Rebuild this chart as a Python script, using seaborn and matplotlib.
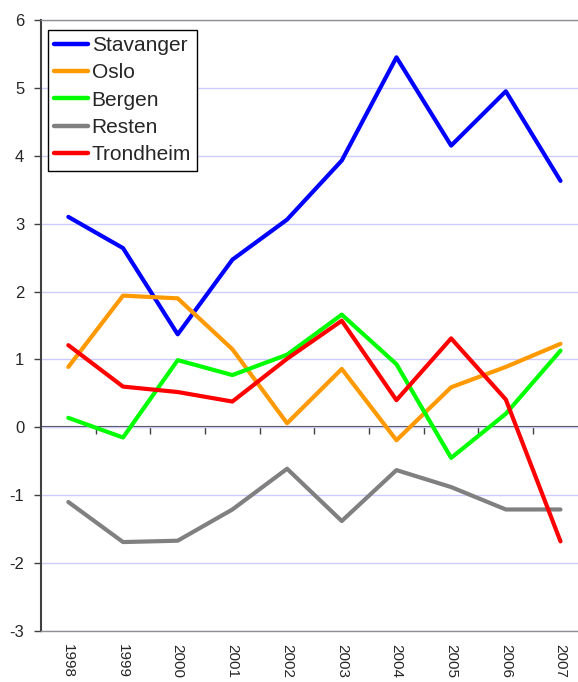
import matplotlib
matplotlib.use('Agg')
import matplotlib.pyplot as plt
import pandas as pd
import seaborn as sns

years = ['1998', '1999', '2000', '2001', '2002', '2003', '2004', '2005', '2006', '2007']

stavanger = [3.10, 2.64, 1.37, 2.47, 3.06, 3.93, 5.45, 4.15, 4.95, 3.63]
oslo = [0.89, 1.94, 1.90, 1.15, 0.06, 0.86, -0.19, 0.59, 0.89, 1.23]
bergen = [0.14, -0.15, 0.99, 0.77, 1.07, 1.66, 0.93, -0.45, 0.20, 1.13]
resten = [-1.10, -1.69, -1.67, -1.21, -0.61, -1.38, -0.63, -0.88, -1.21, -1.21]
trondheim = [1.21, 0.60, 0.52, 0.38, 1.01, 1.57, 0.40, 1.31, 0.41, -1.68]

series = ['Stavanger', 'Oslo', 'Bergen', 'Resten', 'Trondheim']
colours = ['#0000ff', '#ff9900', '#00ff00', '#808080', '#ff0000']

rows = []
for name, vals in zip(series, [stavanger, oslo, bergen, resten, trondheim]):
    for i, v in enumerate(vals):
        rows.append({'pos': i, 'year': years[i], 'value': v, 'region': name})
df = pd.DataFrame(rows)

sns.set_style('white')
plt.rcParams['font.family'] = ['Liberation Sans', 'DejaVu Sans']
plt.rcParams['axes.unicode_minus'] = False

fig = plt.figure(figsize=(5.78, 6.82), dpi=100)
ax = fig.add_axes([41 / 578, 1 - 631 / 682, 537 / 578, 611 / 682])

sns.lineplot(data=df, x='pos', y='value', hue='region', hue_order=series,
             palette=colours, linewidth=3, ax=ax, legend=True)

ax.set_xlim(-0.5, 9.32)
ax.set_ylim(-3, 6)
ax.set_yticks(range(-3, 7))
ax.set_yticklabels([str(v) for v in range(-3, 7)], fontsize=12)
ax.yaxis.grid(True, color='#ccccff', linewidth=1)
ax.set_axisbelow(True)
ax.tick_params(axis='y', direction='out', length=5, width=1, color='#404040', left=True, pad=7)

ax.set_xticks(range(len(years)))
ax.set_xticklabels(years, rotation=-90, fontsize=11)
ax.tick_params(axis='x', length=0, pad=9)
ax.set_xlabel('')
ax.set_ylabel('')

for s in ['top', 'bottom']:
    ax.spines[s].set_color('#909090')
    ax.spines[s].set_linewidth(1)
ax.spines['right'].set_visible(False)
ax.spines['left'].set_color('#404040')
ax.spines['left'].set_linewidth(1.5)

# category axis crossing at zero, ticks between the years
zero = ax.secondary_xaxis(3 / 9)
zero.set_xticks([i + 0.5 for i in range(len(years) - 1)])
zero.set_xticklabels([])
zero.tick_params(direction='out', length=5, width=1, color='#404040')
zero.spines['bottom'].set_color('#404040')
zero.spines['bottom'].set_linewidth(1.5)

leg = ax.legend(loc='upper left', bbox_to_anchor=(0.013, 0.984), fontsize=15,
                frameon=True, fancybox=False, framealpha=1, edgecolor='black',
                handlelength=1.6, handletextpad=0.2, borderpad=0.3,
                labelspacing=0.4, borderaxespad=0)
leg.get_frame().set_linewidth(1)
for line in leg.get_lines():
    line.set_linewidth(3.2)

fig.savefig('out.png', dpi=100)
